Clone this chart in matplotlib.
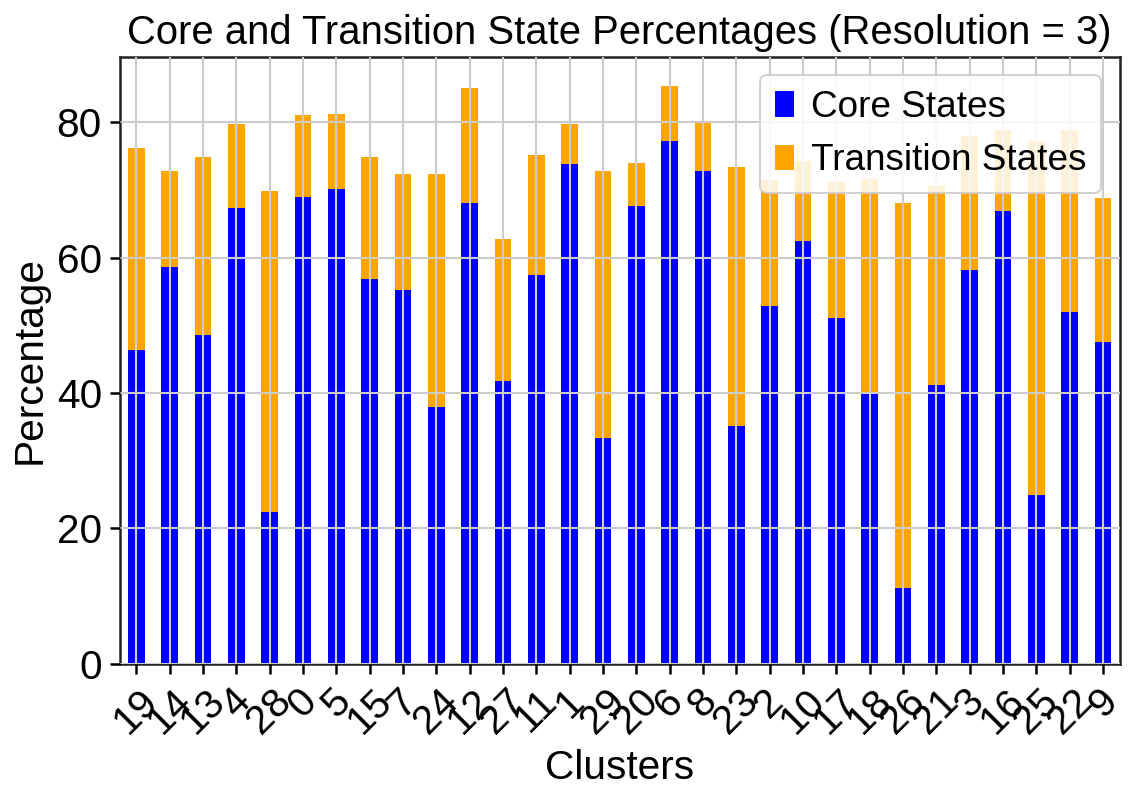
import numpy as np
import matplotlib
matplotlib.use("Agg")
import matplotlib.pyplot as plt

# cluster labels in plotted order
clusters = ['19', '14', '13', '4', '28', '0', '5', '15', '7', '24',
            '12', '27', '11', '1', '29', '20', '6', '8', '23', '2',
            '10', '17', '18', '26', '21', '3', '16', '25', '22', '9']

# percentages
core = [46.4, 58.6, 48.5, 67.3, 22.5, 69.0, 70.2, 56.8, 55.2, 37.9,
        68.0, 41.8, 57.4, 73.8, 33.3, 67.6, 77.2, 72.8, 35.2, 52.8,
        62.4, 51.1, 39.8, 11.2, 41.2, 58.1, 66.9, 25.0, 52.0, 47.5]
total = [76.2, 72.8, 74.8, 79.7, 69.9, 81.0, 81.2, 74.8, 72.4, 72.4,
         85.0, 62.8, 75.2, 79.8, 72.8, 74.0, 85.4, 80.2, 73.4, 71.4,
         74.3, 71.1, 71.6, 68.1, 70.6, 78.0, 78.8, 77.2, 78.9, 68.8]
transition = [round(t - c, 1) for t, c in zip(total, core)]


def create_plot():
    '''Stacked bar chart of core and transition state percentages'''

    plt.rcParams['font.family'] = ['Liberation Sans', 'DejaVu Sans']
    fs = 19.5

    fig, ax = plt.subplots(figsize=(1139 / 150, 798 / 150), dpi=150)
    fig.subplots_adjust(left=0.105, right=0.983, top=0.929, bottom=0.168)

    x = np.arange(len(clusters))
    ax.bar(x, core, width=0.5, color='blue', label='Core States', zorder=2)
    ax.bar(x, transition, width=0.5, bottom=core, color='orange',
           label='Transition States', zorder=2)

    # axes
    ax.set_xlim(-0.5, len(clusters) - 0.5)
    ax.set_ylim(0, max(total) * 1.05)
    ax.set_xticks(x)
    ax.set_xticklabels(clusters, rotation=45)
    ax.set_yticks([0, 20, 40, 60, 80])
    ax.tick_params(axis='both', labelsize=fs, length=5, width=1.2)

    ax.grid(True, color='#cccccc', linewidth=1, zorder=3)
    ax.set_axisbelow(False)
    for s in ax.spines.values():
        s.set_linewidth(1.2)
        s.set_color('#222222')

    ax.set_xlabel('Clusters', fontsize=fs)
    ax.set_ylabel('Percentage', fontsize=fs)
    ax.set_title('Core and Transition State Percentages (Resolution = 3)', fontsize=19.2)
    ax.legend(loc='upper right', fontsize=17.7, framealpha=0.85, handlelength=0.52,
              handleheight=0.68, handletextpad=0.45)

    fig.savefig('out.png', dpi=150)


def main():
    create_plot()


if __name__ == "__main__":
    main()
